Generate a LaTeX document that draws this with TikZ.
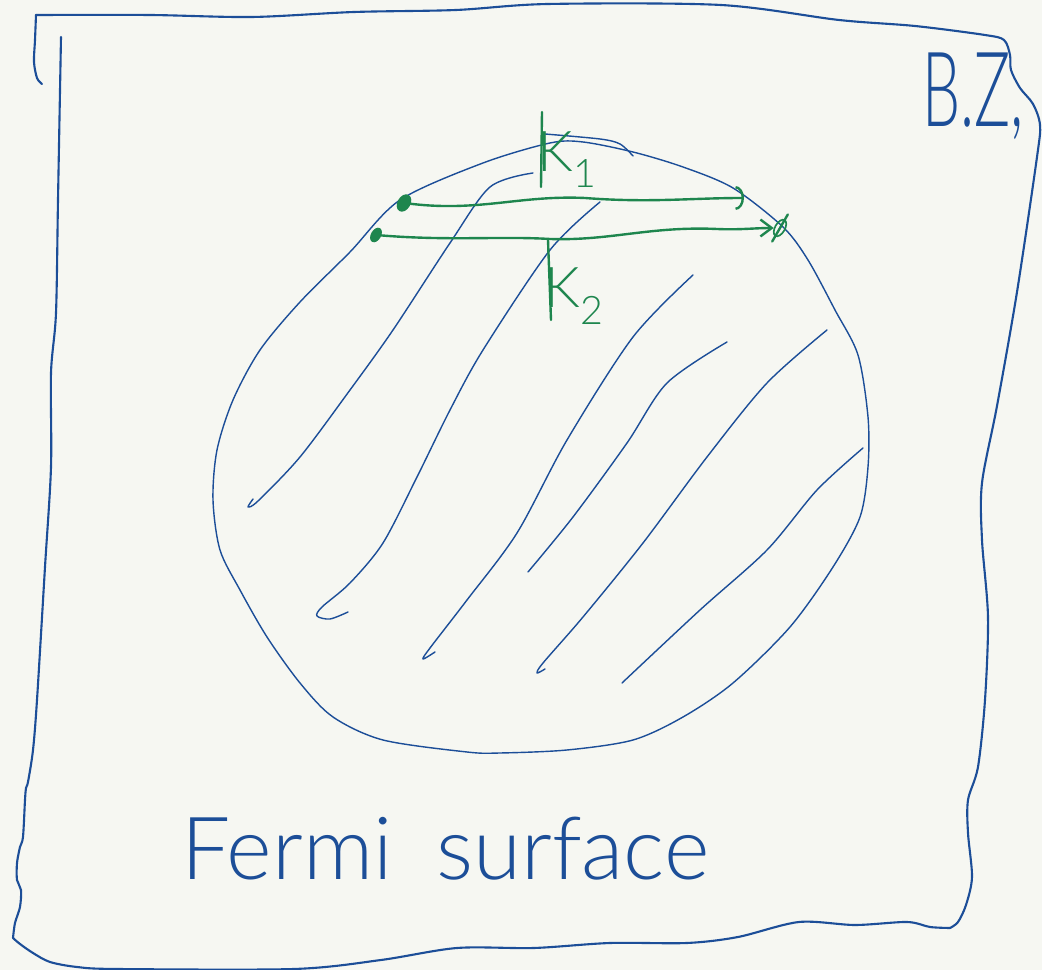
\documentclass[tikz,border=0pt]{standalone}
\usepackage{fontspec}
\setmainfont{Lato Light}
\usepackage{tikz}
\usetikzlibrary{arrows.meta, shapes.geometric}
\definecolor{penblue}{RGB}{28, 78, 152}
\definecolor{pengreen}{RGB}{30, 134, 78}
\definecolor{paper}{RGB}{246, 247, 242}

\begin{document}
\begin{tikzpicture}[x=0.025cm, y=-0.025cm,
		boxpen/.style={penblue, line width=1.5pt, line cap=round, line join=round},
		hatchpen/.style={penblue, line width=1.0pt, line cap=round, line join=round},
		greenpen/.style={pengreen, line width=1.7pt, line cap=round, line join=round},
		kdot/.style={ellipse, draw=pengreen, line width=1.2pt, inner sep=0pt,
			minimum width=8pt, minimum height=12pt, rotate=-30},
		klabel/.style={pengreen, inner sep=0pt, anchor=base west, font=\fontsize{40}{44}\selectfont},
		bluetext/.style={penblue, inner sep=0pt, anchor=base west}]
		
		% --- paper ---
		\path[use as bounding box, fill=paper] (0,0) rectangle (1042,970);
		
		% --- Brillouin zone frame ---
		\draw[boxpen] plot[smooth] coordinates {(42,84) (37,78) (34,62) (35,40) (36,15)};
		\draw[boxpen] plot[smooth] coordinates {(36,15) (150,15) (252,17) (354,12) (456,10)
			(548,4) (721,5) (839,20) (915,26) (985,35) (1004,40) (1010,55) (1011,70)
			(1020,88) (1033,104) (1040,125) (1037,157) (1017,292) (997,406) (982,483)
			(982,540) (988,617) (985,700) (978,767) (968,800) (968,833) (972,877)
			(966,905) (958,922) (950,928)};
		\draw[boxpen] plot[smooth] coordinates {(950,928) (930,927) (907,922) (855,925)
			(799,922) (738,937) (687,943) (610,943) (534,948) (457,948) (381,960)
			(294,969) (117,969) (77,967) (50,962) (33,953) (20,944) (13,938)};
		\draw[boxpen] plot[smooth] coordinates {(13,938) (15,923) (20,907) (21,890)
			(17,880) (17,863) (20,847) (23,837) (25,800) (26,788) (28,782) (33,750)
			(37,700) (45,567) (51,467) (51,373) (56,313) (58,200) (61,37)};
		
		% --- Fermi surface ---
		\draw[hatchpen] plot[smooth cycle] coordinates {(550,143) (583,142) (633,152)
			(683,167) (733,188) (783,227) (808,260) (835,310) (858,355) (868,417)
			(868,467) (860,517) (833,567) (790,627) (733,683) (683,717) (633,740)
			(567,750) (500,753) (467,752) (383,740) (333,717) (300,683) (267,637)
			(240,590) (220,550) (213,500) (217,450) (233,400) (260,350) (300,302)
			(350,252) (400,200) (483,163)};
		\draw[hatchpen] plot[smooth] coordinates {(545,134) (600,139) (620,144) (633,156)};
		
		% --- filling strokes ---
		\draw[hatchpen] plot[smooth] coordinates {(253,499) (248,507) (258,501) (300,457)
			(350,390) (393,330) (450,243) (490,187) (533,173)};
		\draw[hatchpen] plot[smooth] coordinates {(348,612) (330,619) (317,616) (322,607)
			(350,583) (383,543) (417,477) (450,410) (483,350) (550,250) (600,202)};
		\draw[hatchpen] plot[smooth] coordinates {(435,652) (423,659) (430,648) (467,600)
			(517,533) (567,440) (633,337) (693,275)};
		\draw[hatchpen] plot[smooth] coordinates {(528,572) (573,517) (627,443)
			(667,383) (727,342)};
		\draw[hatchpen] plot[smooth] coordinates {(545,669) (537,673) (543,663) (583,617)
			(643,543) (707,457) (767,383) (827,330)};
		\draw[hatchpen] plot[smooth] coordinates {(622,683) (700,610) (767,550)
			(817,490) (863,448)};
		
		% --- scattering states ---
		\node[kdot, fill=pengreen] (k1from) at (404,203) {};
		\coordinate (k1to) at (744,198);
		\node[kdot, fill=pengreen, minimum width=6pt, minimum height=10pt] (k2from) at (376,235) {};
		\node[kdot, minimum width=7pt, minimum height=13pt] (k2to) at (780,228) {};
		
		\draw[greenpen, -{Arc Barb[length=6pt, width=17pt]}] (k1from)
			.. controls (480,212) and (520,195) .. (585,198)
			.. controls (650,203) and (690,198) .. (k1to);
		\draw[greenpen, -{Straight Barb[length=8pt, width=12pt]}] (k2from)
			.. controls (450,241) and (500,236) .. (550,239)
			.. controls (610,241) and (650,226) .. (717,229)
			.. controls (740,230) and (755,228) .. (k2to);
		\draw[greenpen, shorten <=-4pt, shorten >=-4pt] (k2to.south) -- (k2to.north);
		
		% --- momentum labels ---
		\draw[greenpen] (542,112) -- (541,187);
		\node[klabel] (k1) at (537,172) {K\textsubscript{1}};
		\draw[greenpen] (548,240) -- (551,320);
		\node[klabel] (k2) at (544,308) {K\textsubscript{2}};
		
		% --- captions ---
		\node[bluetext, font=\fontsize{74}{80}\selectfont] (bz) at (922,127) {\scalebox{0.58}[1]{B.Z,}};
		\node[bluetext, font=\fontsize{62}{68}\selectfont] (fermi) at (181,880) {Fermi\enspace surface};
		
	\end{tikzpicture}
\end{document}
